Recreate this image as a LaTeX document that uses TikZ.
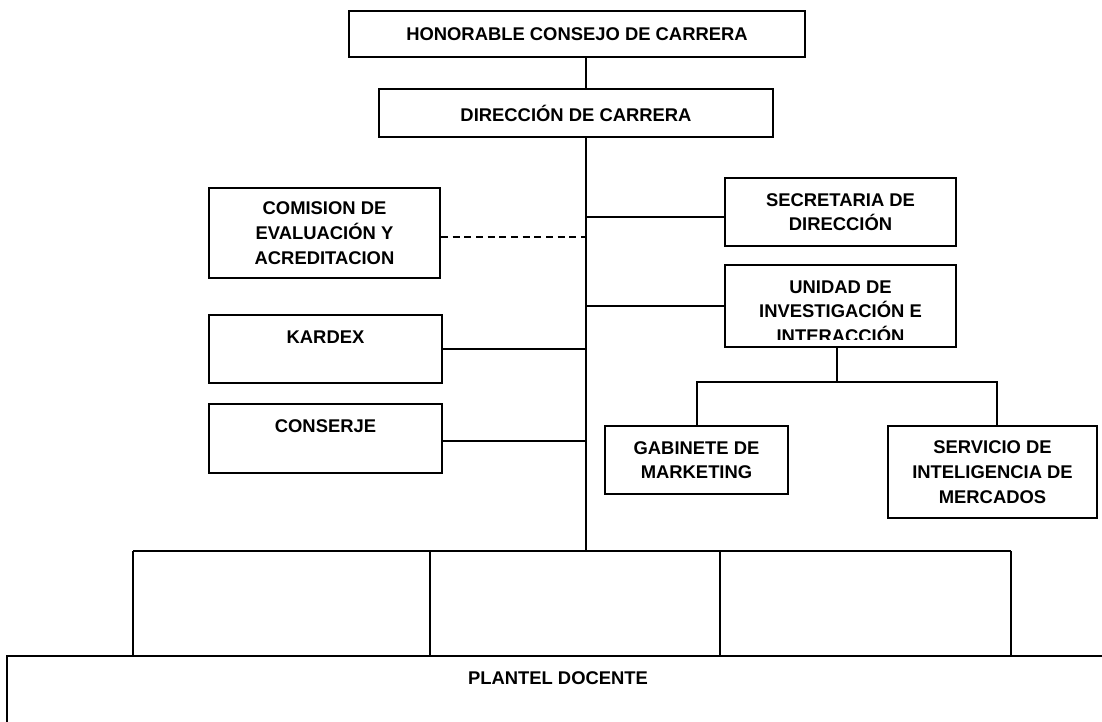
\documentclass[tikz,border=0pt]{standalone}
\usepackage{fontspec}
\setmainfont{Liberation Sans}
\usetikzlibrary{calc}
\tikzset{
  org/.style = {draw, line width=1.5pt, align=center, inner sep=0pt,
    font=\fontsize{13.8}{18.5}\selectfont\bfseries},
  orgtop/.style = {org, anchor=north west, text height=21.5pt},
  orgtext/.style = {align=center, inner sep=0pt,
    font=\fontsize{13.8}{18.5}\selectfont\bfseries},
  link/.style = {line width=1.5pt},
  dashlink/.style = {line width=1.5pt, dash pattern=on 5.25pt off 3.5pt}
}
\begin{document}
\begin{tikzpicture}[x=0.75pt, y=-0.75pt]
\useasboundingbox (0,0) rectangle (1102,721);
% boxes
\node[org, minimum width=342pt, minimum height=34.5pt] (honor) at (577,34) {HONORABLE CONSEJO DE CARRERA};
\node[org, minimum width=295.5pt, minimum height=36pt] (direc) at (576,113) {DIRECCIÓN DE CARRERA};
\node[org, minimum width=173.25pt, minimum height=67.5pt] (comis) at (324.5,233) {COMISION DE\\EVALUACIÓN Y\\ACREDITACION};
\node[org, minimum width=173.25pt, minimum height=51pt] (secre) at (840.5,212) {SECRETARIA DE\\DIRECCIÓN};
\node[org, minimum width=173.25pt, minimum height=61.5pt] (unid) at (840.5,306) {};
\begin{scope}
  \clip (unid.north west) rectangle ($(unid.south east)+(0,-9)$);
  \node[orgtext] (unidtxt) at (840.5,311.7) {UNIDAD DE\\INVESTIGACIÓN E\\INTERACCIÓN};
\end{scope}
\node[orgtop, minimum width=174.75pt, text depth=29.5pt] (kard) at (208,314) {KARDEX};
\node[orgtop, minimum width=174.75pt, text depth=30.3pt] (cons) at (208,403) {CONSERJE};
\node[org, minimum width=137.25pt, minimum height=51pt] (gabin) at (696.5,460) {GABINETE DE\\MARKETING};
\node[org, minimum width=156.75pt, minimum height=69pt] (serv) at (992.5,472) {SERVICIO DE\\INTELIGENCIA DE\\MERCADOS};
\node[orgtop, minimum width=826.5pt, text depth=90pt] (plant) at (6,655) {PLANTEL DOCENTE};
% main line
\coordinate (trunk) at (586,551);
\draw[link] (honor.south -| trunk) -- (direc.north -| trunk);
\draw[link] (direc.south -| trunk) -- (trunk);
% side branches
\draw[link] ([yshift=-3.75pt]secre.west) -- ([yshift=-3.75pt]secre.west -| trunk);
\draw[link] (unid.west) -- (unid.west -| trunk);
\draw[dashlink] ([yshift=-3pt]comis.east) -- ([yshift=-3pt]comis.east -| trunk);
\draw[link] (kard.east) -- (kard.east -| trunk);
\draw[link] ([yshift=-1.5pt]cons.east) -- ([yshift=-1.5pt]cons.east -| trunk);
% unidad
\coordinate (split) at (837,382);
\coordinate (servtap) at (997,382);
\draw[link] (unid.south -| split) -- (split);
\draw[link] (gabin.north) |- (servtap) -- (serv.north -| servtap);
% plantel
\foreach \xp [count=\i] in {133,430,720,1011}
  \coordinate (drop\i) at (\xp,551);
\draw[link] (drop1) -- (drop4);
\foreach \i in {1,...,4}
  \draw[link] (drop\i) -- (drop\i |- plant.north);
\end{tikzpicture}
\end{document}
